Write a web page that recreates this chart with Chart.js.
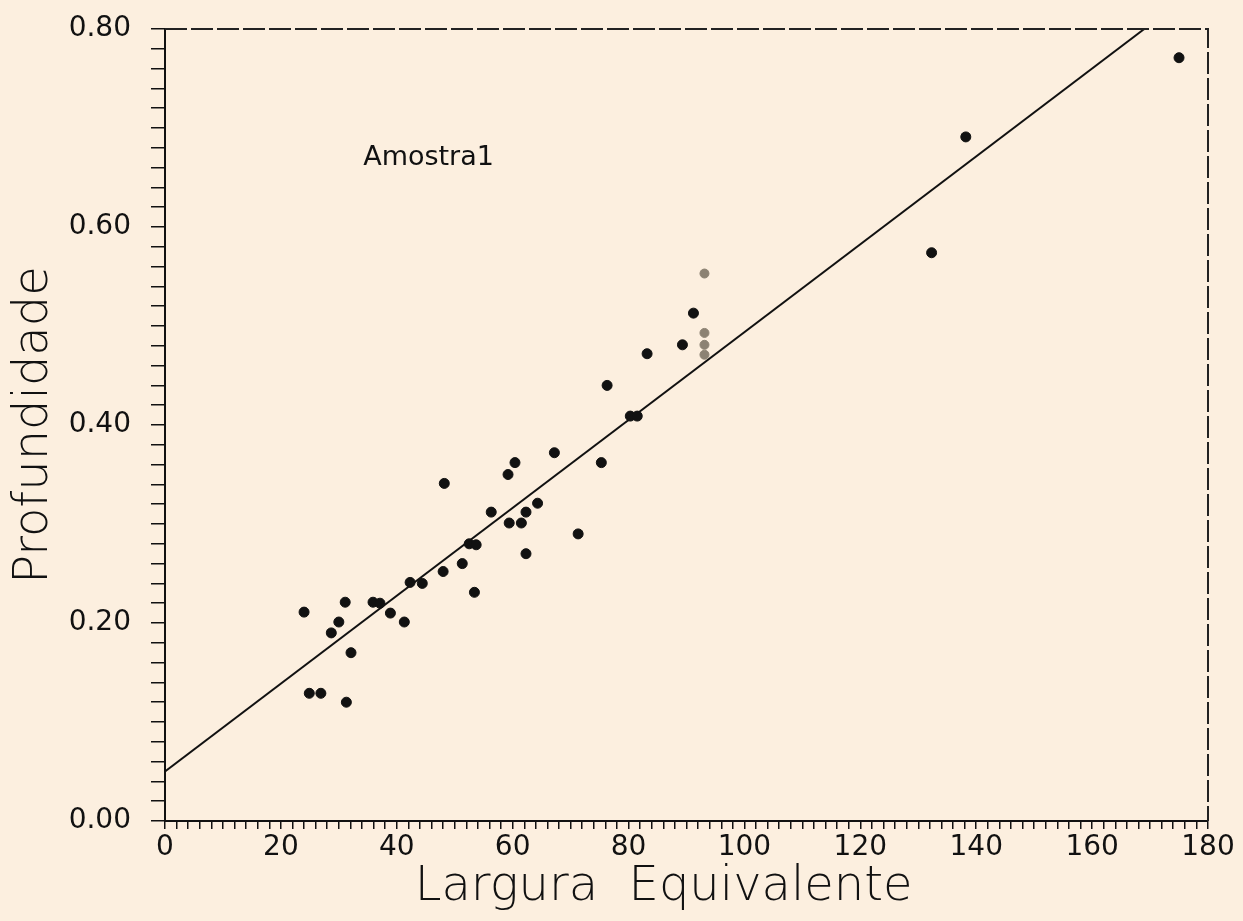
<!DOCTYPE html>
<html>
<head>
<meta charset="utf-8">
<script src="https://cdn.jsdelivr.net/npm/chart.js@4.4.1/dist/chart.umd.min.js"></script>
<style>
  html, body { margin: 0; padding: 0; background: #fcefdf; }
  #wrap { width: 1243px; height: 921px; }
</style>
</head>
<body>
<div id="wrap"><canvas id="plot" width="1243" height="921"></canvas></div>
<script>
// measured points (Largura Equivalente, Profundidade)
const largura = [24.0, 28.7, 30.0, 31.1, 35.9, 37.1, 38.9, 41.3, 42.3, 44.4,
  48.0, 32.1, 24.9, 26.9, 31.3, 48.2, 53.4, 51.3, 52.5, 53.7,
  56.3, 59.4, 61.5, 62.3, 64.3, 62.3, 59.2, 60.4, 67.2, 71.3,
  75.3, 80.3, 81.5, 76.3, 83.2, 89.3, 91.2, 175.0, 138.2, 132.3];
const profundidade = [0.211, 0.190, 0.201, 0.221, 0.221, 0.220, 0.210, 0.201, 0.241, 0.240,
  0.252, 0.170, 0.129, 0.129, 0.120, 0.341, 0.231, 0.260, 0.280, 0.279,
  0.312, 0.301, 0.301, 0.312, 0.321, 0.270, 0.350, 0.362, 0.372, 0.290,
  0.362, 0.409, 0.409, 0.440, 0.472, 0.481, 0.513, 0.771, 0.691, 0.574];

// faint (grey) points
const larguraCinza = [93.1, 93.1, 93.1, 93.1];
const profundidadeCinza = [0.553, 0.493, 0.481, 0.471];

// fitted line end points
const retaX = [0, 169];
const retaY = [0.05, 0.80];

const toPoints = (xs, ys) => xs.map((x, i) => ({ x: x, y: ys[i] }));

const frameAndLabel = {
  id: 'frameAndLabel',
  afterDraw(chart) {
    const { ctx, chartArea, scales } = chart;
    ctx.save();
    ctx.strokeStyle = '#222';
    ctx.lineWidth = 2;
    ctx.setLineDash([22, 4]);
    ctx.beginPath();
    ctx.moveTo(chartArea.left, chartArea.top);
    ctx.lineTo(chartArea.right, chartArea.top);
    ctx.lineTo(chartArea.right, chartArea.bottom);
    ctx.stroke();
    ctx.setLineDash([]);
    ctx.fillStyle = '#111';
    ctx.font = '27px "DejaVu Sans"';
    ctx.textBaseline = 'middle';
    ctx.fillText('Amostra1', scales.x.getPixelForValue(34.2), scales.y.getPixelForValue(0.67));
    ctx.restore();
  }
};

window.addEventListener('load', () => {
  const ctx = document.getElementById('plot').getContext('2d');
  new Chart(ctx, {
    type: 'scatter',
    data: {
      datasets: [
        {
          label: 'Amostra1',
          data: toPoints(largura, profundidade),
          backgroundColor: '#111',
          borderColor: '#111',
          pointRadius: 5
        },
        {
          label: 'cinza',
          data: toPoints(larguraCinza, profundidadeCinza),
          backgroundColor: '#8c8273',
          borderColor: '#8c8273',
          pointRadius: 4.5
        },
        {
          type: 'line',
          label: 'reta',
          data: toPoints(retaX, retaY),
          borderColor: '#111',
          borderWidth: 2,
          pointRadius: 0,
          fill: false
        }
      ]
    },
    options: {
      responsive: false,
      animation: false,
      layout: { padding: { top: 29, right: 35, left: 0, bottom: 0 } },
      plugins: {
        legend: { display: false },
        tooltip: { enabled: false }
      },
      scales: {
        x: {
          type: 'linear',
          min: 0,
          max: 180,
          afterFit: (s) => { s.height = 100; s.paddingRight = 0; },
          border: { display: true, color: '#111', width: 2 },
          grid: { drawOnChartArea: false, color: '#111', tickLength: 8, lineWidth: 1.5 },
          ticks: {
            stepSize: 2,
            autoSkip: false,
            maxRotation: 0,
            padding: 2,
            color: '#111',
            font: { family: 'DejaVu Sans', size: 28 },
            callback: (v) => (Math.round(v) % 20 === 0 ? String(Math.round(v)) : '')
          },
          title: {
            display: true,
            text: 'Largura  Equivalente   ',
            color: '#111',
            font: { family: 'DejaVu Sans', size: 48, weight: 200 },
            padding: { top: 0, bottom: 5 }
          }
        },
        y: {
          type: 'linear',
          min: 0,
          max: 0.8,
          afterFit: (s) => { s.width = 165; s.paddingTop = 0; s.paddingBottom = 0; },
          border: { display: true, color: '#111', width: 2 },
          grid: { drawOnChartArea: false, color: '#111', tickLength: 14, lineWidth: 1.5 },
          ticks: {
            stepSize: 0.02,
            autoSkip: false,
            padding: 20,
            color: '#111',
            font: { family: 'DejaVu Sans', size: 28 },
            callback: (v) => (Math.round(v * 100) % 20 === 0 ? v.toFixed(2) : '')
          },
          title: {
            display: true,
            text: 'Profundidade',
            color: '#111',
            font: { family: 'DejaVu Sans', size: 48, weight: 200 },
            padding: { top: 6, bottom: 0 }
          }
        }
      }
    },
    plugins: [frameAndLabel]
  });
});
</script>
</body>
</html>
